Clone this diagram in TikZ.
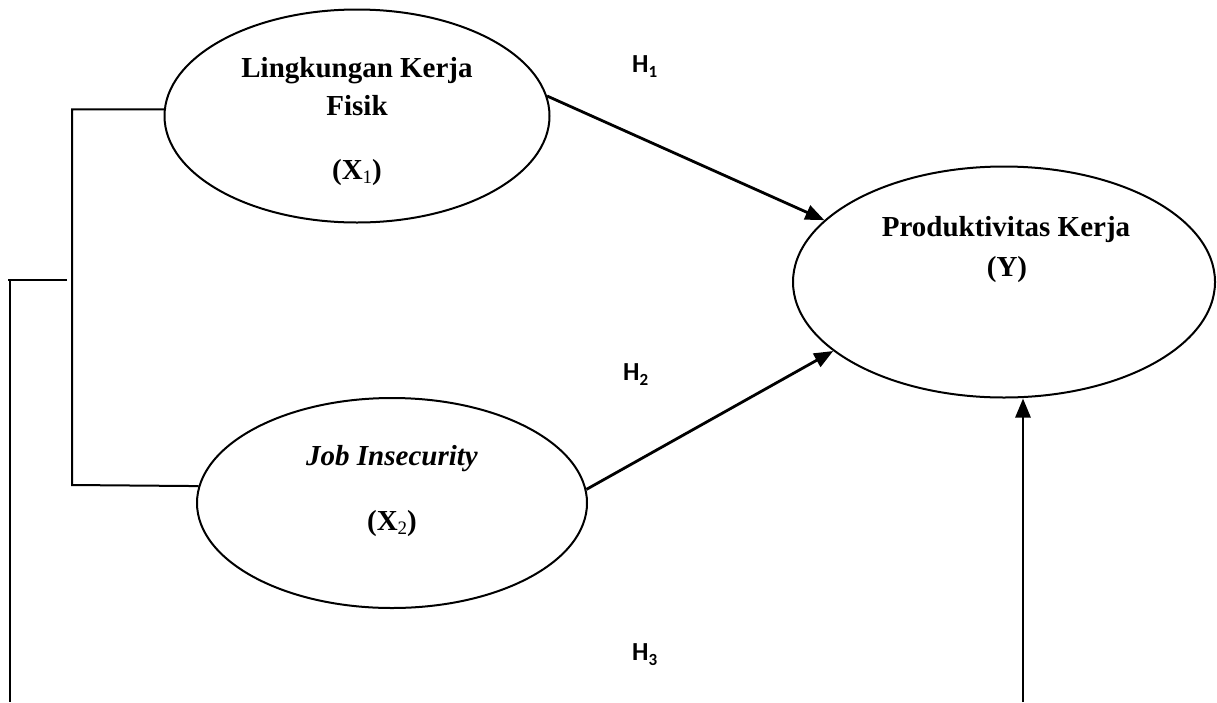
\documentclass[tikz,border=0pt]{standalone}
\usepackage{fontspec}
\setmainfont{Liberation Serif}
\newfontfamily\hfont{Carlito}
\usetikzlibrary{arrows.meta,shapes.geometric}
\newcommand\sbs[1]{\raisebox{-0.17em}{\fontsize{19}{19}\selectfont\mdseries #1}}
\newcommand\hsb[1]{\raisebox{-0.2em}{\fontsize{17}{17}\selectfont #1}}
\tikzset{
  var/.style={draw, ellipse, line width=2pt, inner sep=0pt},
  lbl/.style={anchor=base, inner sep=0pt, font=\fontsize{29}{35}\selectfont\bfseries},
  hyp/.style={anchor=base west, inner sep=0pt, font=\hfont\fontsize{26}{30}\selectfont\bfseries},
  link/.style={line width=2.8pt, -{Triangle[length=19pt,width=15pt]}},
  brk/.style={line width=2pt}
}
\begin{document}
\begin{tikzpicture}[x=1pt,y=-1pt]
\useasboundingbox (0,0) rectangle (1217,702);
% ellipses
\node[var, minimum width=385pt, minimum height=213pt] (e1) at (357,116) {};
\node[var, minimum width=390pt, minimum height=210pt] (e2) at (392,503) {};
\node[var, minimum width=422pt, minimum height=231pt] (y) at (1004,282) {};
% texts
\node[lbl] (t1a) at (357,77) {Lingkungan Kerja};
\node[lbl] (t1b) at (357,115) {Fisik};
\node[lbl] (t1c) at (357,179) {(X\sbs{1})};
\node[lbl] (t2a) at (392,465) {\itshape Job Insecurity};
\node[lbl] (t2b) at (392,530) {(X\sbs{2})};
\node[lbl] (t3a) at (1006,236) {Produktivitas Kerja};
\node[lbl] (t3b) at (1007,276) {(Y)};
% hypotheses
\node[hyp] (h1) at (632,72) {H\hsb{1}};
\node[hyp] (h2) at (623,380) {H\hsb{2}};
\node[hyp] (h3) at (632,660) {H\hsb{3}};
% coordinates
\coordinate (b2) at (72,485);
\coordinate (o1) at (67,280);
\coordinate (o2) at (8,280);
\coordinate (o3) at (10,280);
\coordinate (o4) at (10,702);
\coordinate (v1) at (1023,702);
% bracket
\draw[brk] (e1.178) -| (b2) -- (e2.175);
\draw[brk] (o1) -- (o2);
\draw[brk] (o3) -- (o4);
% arrows
\draw[link] (e1.6) -- (y.161);
\draw[link] (e2.4.7) -- (y.202);
\draw[link] (v1) -- (v1 |- y.south);
\end{tikzpicture}
\end{document}
